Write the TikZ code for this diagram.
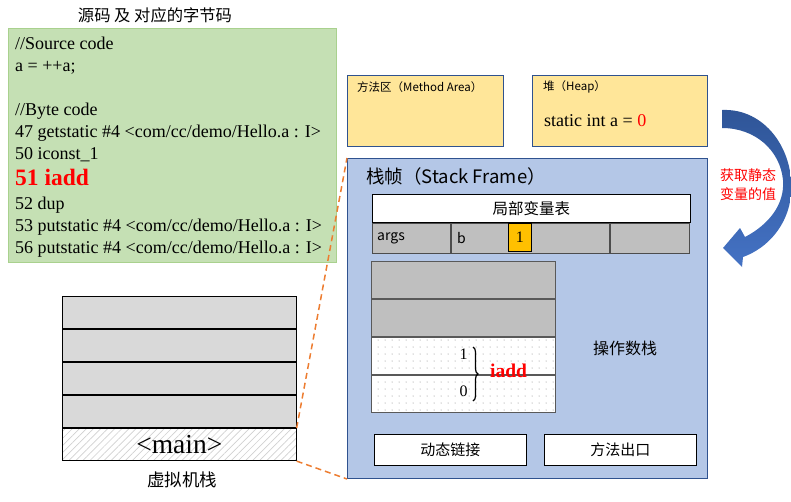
\documentclass[tikz,border=0pt]{standalone}
\usepackage{fontspec}
\setmainfont{Liberation Serif}
\newfontfamily\cjk{Noto Sans CJK SC}
\usetikzlibrary{positioning,patterns.meta,decorations.pathreplacing}

\definecolor{codegreen}{HTML}{C5E0B4}
\definecolor{codeedge}{HTML}{A9D18E}
\definecolor{areayellow}{HTML}{FFE699}
\definecolor{frameblue}{HTML}{B4C7E7}
\definecolor{edgeblue}{HTML}{2F528F}
\definecolor{slotgray}{HTML}{BFBFBF}
\definecolor{vmgray}{HTML}{D9D9D9}
\definecolor{slotorange}{HTML}{FFC000}
\definecolor{linkorange}{HTML}{ED7D31}
\definecolor{arrowtop}{HTML}{2F5597}
\definecolor{arrowbottom}{HTML}{4472C4}

\tikzstyle{area} = [rectangle, anchor=north west, inner sep=0pt, fill=areayellow, draw=edgeblue, line width=0.8pt]
\tikzstyle{slot} = [rectangle, anchor=north west, inner sep=0pt, minimum height=30pt, fill=slotgray, draw=black!70, line width=0.8pt]
\tikzstyle{oprow} = [rectangle, inner sep=0pt, minimum width=184pt, minimum height=37.25pt, fill=slotgray, draw=black!65, line width=0.8pt]
\tikzstyle{opdots} = [rectangle, inner sep=0pt, minimum width=184pt, minimum height=37.25pt, draw=black!65, line width=0.8pt, preaction={fill=white}, pattern={Dots[distance=7pt,radius=0.5pt]}, pattern color=black!50]
\tikzstyle{vmrow} = [rectangle, inner sep=0pt, minimum width=234pt, minimum height=32.4pt, fill=vmgray, draw=black, line width=0.6pt]
\tikzstyle{exitbox} = [rectangle, anchor=north west, inner sep=0pt, minimum width=152pt, minimum height=31pt, fill=white, draw=black, line width=0.8pt, font=\cjk\fontsize{15}{18}\selectfont]
\tikzstyle{cjktext} = [inner sep=0pt, font=\cjk\fontsize{15}{18}\selectfont]
\tikzstyle{smalltext} = [inner sep=0pt, anchor=west, font=\cjk\fontsize{11.5}{13}\selectfont]
\tikzstyle{numtext} = [inner sep=0pt, font=\fontsize{16}{18}\selectfont]
\tikzstyle{link} = [linkorange, line width=1.5pt, dash pattern=on 6pt off 4pt]
\tikzstyle{brace} = [decorate, decoration={brace, amplitude=5pt}, line width=1.2pt]

\begin{document}
\begin{tikzpicture}[x=1pt, y=-1pt]
\useasboundingbox (0,0) rectangle (791,501);

% source and byte code
\node (codetitle) [cjktext, font=\cjk\fontsize{16.3}{19}\selectfont] at (155,15) {源码 及 对应的字节码};
\node (code) [rectangle, anchor=north west, inner sep=0pt, minimum width=328pt, minimum height=234pt, fill=codegreen, draw=codeedge, line width=0.8pt] at (8,28) {};
\node (codetext) [anchor=north west, align=left, inner sep=0pt, font=\fontsize{18}{22}\selectfont] at (15,36.5) {//Source code\\ a = ++a;\\[22pt] //Byte code\\ 47 getstatic \#4 <com/cc/demo/Hello.a : I>\\ 50 iconst\_1\\[4pt] {\fontsize{23.5}{26}\selectfont\bfseries\color{red}51 iadd}\\[2pt] 52 dup\\ 53 putstatic \#4 <com/cc/demo/Hello.a : I>\\ 56 putstatic \#4 <com/cc/demo/Hello.a : I>};

% method area and heap
\node (marea) [area, minimum width=156pt, minimum height=71pt] at (347,75) {};
\node (malabel) [smalltext, right=10pt of marea.north west, yshift=-12pt] {方法区（Method Area）};
\node (heap) [area, minimum width=175pt, minimum height=71pt] at (532,75) {};
\node (heaplabel) [smalltext, right=11pt of heap.north west, yshift=-12pt] {堆（Heap）};
\node (heapvalue) [anchor=west, inner sep=0pt, font=\fontsize{18}{21}\selectfont] at (544,121) {static int a = {\color{red}0}};

% stack frame
\node (frame) [rectangle, anchor=north west, inner sep=0pt, minimum width=360pt, minimum height=320pt, fill=frameblue, draw=edgeblue, line width=1pt] at (347,158) {};
\node (framelabel) [inner sep=0pt, anchor=west, font=\cjk\fontsize{18.5}{21}\selectfont] at (366,176) {栈帧（Stack Frame）};

\node (lvhead) [rectangle, anchor=north west, inner sep=0pt, minimum width=318pt, minimum height=28pt, fill=white, draw=black, line width=0.8pt, font=\cjk\fontsize{15.5}{18}\selectfont] at (372,194) {局部变量表};
\node (lvargs) [slot, minimum width=78pt] at (lvhead.south west) {};
\node (lvb) [slot, minimum width=158pt, right=0pt of lvargs] {};
\node (lvc) [slot, minimum width=79pt, right=0pt of lvb] {};
\node (argstext) [cjktext, font=\cjk\fontsize{14}{16}\selectfont, right=5pt of lvargs.west] {args};
\node (btext) [cjktext, font=\cjk\fontsize{14}{16}\selectfont, right=6pt of lvb.west] {b};
\node (one) [rectangle, anchor=north west, inner sep=0pt, minimum width=23pt, minimum height=28pt, fill=slotorange, draw=black, line width=0.8pt, font=\fontsize{16}{18}\selectfont] at (508,223) {1};

% operand stack
\node (os1) [oprow, anchor=north west] at (371,261) {};
\node (os2) [oprow, below=0pt of os1] {};
\node (os3) [opdots, below=0pt of os2] {};
\node (os4) [opdots, below=0pt of os3] {};
\node (v1) [numtext, left=88pt of os3.east, yshift=2pt] {1};
\node (v0) [numtext, left=88pt of os4.east, yshift=3pt] {0};
\draw [brace] (473,347) -- (473,401);
\node (iadd) [inner sep=0pt, anchor=west, text=red, font=\fontsize{19.5}{21}\selectfont\bfseries] at (490,371) {iadd};
\node (oslabel) [cjktext, font=\cjk\fontsize{16}{18}\selectfont] at (625,348) {操作数栈};

\node (dlink) [exitbox] at (374,434) {动态链接};
\node (mexit) [exitbox] at (544,434) {方法出口};

% virtual machine stack
\node (vm1) [vmrow, anchor=north west] at (62,296) {};
\node (vm2) [vmrow, below=0pt of vm1] {};
\node (vm3) [vmrow, below=0pt of vm2] {};
\node (vm4) [vmrow, below=0pt of vm3] {};
\node (vmmain) [rectangle, inner sep=0pt, minimum width=234pt, minimum height=32.4pt, draw=black, line width=0.6pt, preaction={fill=white}, pattern={Lines[angle=45,distance=5pt,line width=0.7pt]}, pattern color=black!18, font=\fontsize{27.5}{29}\selectfont, below=0pt of vm4] {<main>};
\node (vmlabel) [cjktext, font=\cjk\fontsize{17.5}{20}\selectfont] at (182,480) {虚拟机栈};

\draw [link] (vmmain.north east) -- (frame.north west);
\draw [link] (vmmain.south east) -- (frame.south west);

% fetch static value
\shade [top color=arrowtop, bottom color=arrowbottom] (722,110) .. controls (765,108) and (795,150) .. (791,195) .. controls (788,225) and (768,248) .. (743,257) -- (742,267) -- (723,248) -- (740,228) -- (745,237) .. controls (768,225) and (785,205) .. (783,180) .. controls (780,150) and (755,128) .. (722,128) -- cycle;
\node (fetch) [align=center, inner sep=0pt, text=red, font=\cjk\fontsize{14}{19}\selectfont] at (748,185) {获取静态\\变量的值};
\end{tikzpicture}
\end{document}
